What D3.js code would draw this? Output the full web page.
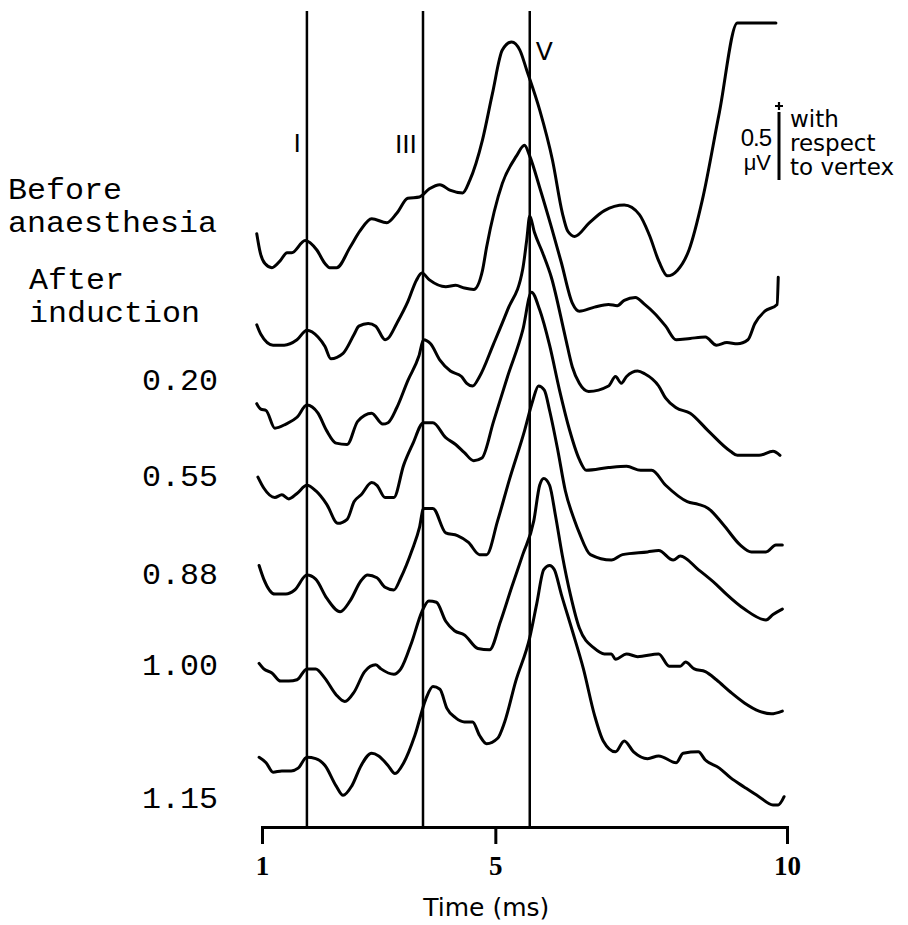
<!DOCTYPE html>
<html>
<head>
<meta charset="utf-8">
<script src="https://cdn.jsdelivr.net/npm/d3@7"></script>
<style>
  html, body { margin: 0; padding: 0; background: #fff; }
  svg { display: block; }
</style>
</head>
<body>
<svg id="chart" width="908" height="925"></svg>
<script>
// Brainstem auditory evoked responses recorded before and during anaesthesia.
// Each series: [time (ms), amplitude (µV) relative to that trace's own baseline].
const before = [
  [0.91,-0.01],[0.97,-0.15],[1.05,-0.23],[1.17,-0.26],[1.31,-0.21],[1.43,-0.15],[1.51,-0.15],
  [1.74,-0.06],[1.94,-0.13],[2.08,-0.23],[2.16,-0.26],[2.28,-0.26],[2.51,-0.11],[2.68,0.01],
  [2.88,0.10],[3.14,0.07],[3.31,0.14],[3.50,0.25],[3.70,0.26],[3.87,0.32],[4.05,0.35],[4.22,0.31],
  [4.44,0.29],[4.56,0.38],[4.78,0.68],[4.95,1.02],[5.12,1.34],[5.28,1.40],[5.42,1.34],[5.54,1.19],
  [5.76,0.90],[5.98,0.53],[6.15,0.14],[6.24,0.01],[6.36,-0.03],[6.61,0.07],[6.87,0.16],[7.21,0.20],
  [7.47,0.13],[7.64,-0.02],[7.81,-0.22],[7.95,-0.32],[8.12,-0.28],[8.32,-0.13],[8.55,0.24],
  [8.84,0.88],[9.15,1.54],[9.81,1.54]
];
const afterInduction = [
  [0.91,0.00],[0.98,-0.07],[1.19,-0.15],[1.38,-0.15],[1.60,-0.11],[1.77,-0.04],[1.96,-0.09],
  [2.08,-0.16],[2.18,-0.25],[2.39,-0.21],[2.58,-0.07],[2.66,-0.01],[2.82,0.01],[2.95,-0.01],
  [3.11,-0.11],[3.16,-0.10],[3.31,0.01],[3.50,0.17],[3.65,0.33],[3.74,0.38],[3.87,0.33],[4.15,0.28],
  [4.32,0.29],[4.47,0.27],[4.63,0.26],[4.78,0.40],[4.85,0.57],[5.12,1.04],[5.36,1.24],[5.50,1.32],
  [5.59,1.24],[5.76,1.01],[5.96,0.72],[6.13,0.46],[6.32,0.16],[6.44,0.10],[6.70,0.13],[6.94,0.15],
  [7.09,0.14],[7.21,0.18],[7.40,0.20],[7.56,0.15],[7.74,0.08],[7.92,-0.01],[8.10,-0.11],[8.34,-0.10],
  [8.60,-0.09],[8.79,-0.15],[8.97,-0.13],[9.15,-0.14],[9.33,-0.11],[9.45,0.01],[9.62,0.10],
  [9.83,0.15],[9.85,0.35]
];
const dose020 = [
  [0.91,0.00],[0.98,-0.04],[1.07,-0.05],[1.22,-0.18],[1.41,-0.15],[1.60,-0.10],[1.77,-0.01],
  [1.96,-0.07],[2.11,-0.20],[2.27,-0.29],[2.46,-0.30],[2.64,-0.13],[2.88,-0.07],[3.07,-0.15],
  [3.16,-0.14],[3.31,-0.03],[3.50,0.17],[3.69,0.35],[3.77,0.47],[3.89,0.44],[4.05,0.32],[4.23,0.24],
  [4.42,0.20],[4.51,0.15],[4.61,0.13],[4.73,0.20],[4.97,0.44],[5.21,0.69],[5.47,0.99],[5.54,1.21],
  [5.59,1.38],[5.67,1.26],[5.81,1.11],[5.96,0.93],[6.20,0.49],[6.32,0.27],[6.44,0.15],[6.60,0.09],
  [6.94,0.13],[7.06,0.20],[7.16,0.15],[7.25,0.20],[7.44,0.24],[7.56,0.22],[7.80,0.13],[7.92,0.04],
  [8.10,-0.03],[8.34,-0.07],[8.65,-0.20],[9.03,-0.35],[9.15,-0.38],[9.52,-0.38],[9.76,-0.35],
  [9.88,-0.38]
];
const dose055 = [
  [0.93,0.02],[1.03,-0.06],[1.22,-0.13],[1.34,-0.11],[1.46,-0.14],[1.60,-0.10],[1.77,-0.04],
  [1.92,-0.08],[2.11,-0.18],[2.30,-0.32],[2.46,-0.29],[2.58,-0.16],[2.70,-0.11],[2.88,-0.02],
  [2.97,-0.04],[3.11,-0.13],[3.26,-0.13],[3.43,0.11],[3.58,0.26],[3.77,0.42],[3.93,0.42],[4.15,0.31],
  [4.32,0.26],[4.47,0.20],[4.63,0.14],[4.77,0.16],[4.97,0.43],[5.21,0.76],[5.47,1.10],[5.62,1.38],
  [5.76,1.25],[5.93,0.99],[6.10,0.66],[6.27,0.37],[6.44,0.15],[6.56,0.07],[6.94,0.09],[7.25,0.10],
  [7.49,0.07],[7.68,0.07],[7.92,-0.04],[8.29,-0.16],[8.48,-0.18],[8.65,-0.21],[8.91,-0.33],
  [9.20,-0.48],[9.39,-0.53],[9.64,-0.53],[9.81,-0.48],[9.92,-0.48]
];
const dose088 = [
  [0.95,0.00],[1.03,-0.10],[1.22,-0.21],[1.41,-0.21],[1.56,-0.18],[1.77,-0.07],[1.92,-0.10],
  [2.11,-0.24],[2.34,-0.34],[2.51,-0.26],[2.70,-0.11],[2.81,-0.07],[2.97,-0.09],[3.11,-0.16],
  [3.26,-0.18],[3.38,-0.09],[3.57,0.11],[3.70,0.28],[3.77,0.42],[3.93,0.42],[4.15,0.24],[4.35,0.22],
  [4.54,0.17],[4.73,0.08],[4.85,0.08],[5.04,0.33],[5.24,0.63],[5.50,0.99],[5.64,1.21],[5.74,1.32],
  [5.84,1.29],[5.93,1.14],[6.07,0.85],[6.20,0.55],[6.36,0.33],[6.44,0.24],[6.63,0.08],[6.99,0.04],
  [7.18,0.08],[7.61,0.10],[7.80,0.11],[8.05,0.04],[8.17,0.07],[8.48,-0.03],[8.79,-0.14],
  [8.96,-0.21],[9.27,-0.32],[9.64,-0.40],[9.76,-0.36],[9.92,-0.32]
];
const dose100 = [
  [0.95,0.00],[1.03,-0.04],[1.17,-0.07],[1.32,-0.13],[1.46,-0.13],[1.60,-0.12],[1.77,-0.04],
  [1.92,-0.04],[2.08,-0.11],[2.27,-0.23],[2.42,-0.28],[2.58,-0.21],[2.76,-0.06],[2.95,-0.01],
  [3.04,-0.04],[3.26,-0.08],[3.38,-0.04],[3.57,0.16],[3.74,0.38],[3.86,0.46],[3.99,0.45],[4.15,0.31],
  [4.30,0.24],[4.47,0.21],[4.70,0.11],[4.90,0.10],[5.09,0.31],[5.28,0.56],[5.47,0.80],[5.66,1.05],
  [5.76,1.31],[5.83,1.36],[5.93,1.31],[6.03,1.09],[6.15,0.79],[6.29,0.50],[6.44,0.26],[6.70,0.11],
  [6.87,0.07],[6.99,0.07],[7.06,0.03],[7.25,0.07],[7.44,0.05],[7.80,0.07],[7.98,-0.02],[8.17,-0.02],
  [8.26,0.01],[8.41,-0.04],[8.60,-0.06],[8.79,-0.12],[9.03,-0.21],[9.27,-0.29],[9.52,-0.35],
  [9.73,-0.37],[9.92,-0.35]
];
const dose115 = [
  [0.95,0.00],[1.07,-0.04],[1.19,-0.11],[1.34,-0.10],[1.50,-0.10],[1.62,-0.08],[1.77,0.00],
  [1.92,-0.01],[2.08,-0.06],[2.27,-0.21],[2.39,-0.28],[2.54,-0.21],[2.70,-0.06],[2.88,0.03],
  [3.00,0.01],[3.16,-0.06],[3.28,-0.12],[3.43,-0.04],[3.62,0.16],[3.81,0.43],[3.93,0.52],[4.05,0.50],
  [4.17,0.36],[4.32,0.29],[4.47,0.26],[4.61,0.26],[4.73,0.16],[4.85,0.10],[5.04,0.14],[5.16,0.26],
  [5.35,0.56],[5.59,0.88],[5.71,1.13],[5.83,1.38],[5.93,1.41],[6.01,1.38],[6.13,1.20],[6.32,0.93],
  [6.51,0.65],[6.70,0.31],[6.85,0.12],[7.06,0.04],[7.21,0.12],[7.37,0.04],[7.61,-0.01],[7.80,0.01],
  [8.10,-0.04],[8.22,0.03],[8.48,0.04],[8.60,-0.02],[8.84,-0.08],[9.03,-0.15],[9.27,-0.22],
  [9.52,-0.29],[9.76,-0.35],[9.85,-0.35],[9.95,-0.29]
];

const traceSeries = [before, afterInduction, dose020, dose055, dose088, dose100, dose115];
const conditionLabels = [
  ["Before", "anaesthesia"], ["After", "induction"],
  ["0.20"], ["0.55"], ["0.88"], ["1.00"], ["1.15"]
];
const waveNames = ["I", "III", "V"];
const waveLatencies = [1.77, 3.76, 5.59];   // ms
const timeTicks = [1, 5, 10];
const calibrationUV = 0.5;
const calibrationText = ["with", "respect", "to vertex"];

// ---- layout ----
const W = 908, H = 925;
const axisY = 827, markerTop = 11;
const stackOffsets = [4.38, 3.70, 3.12, 2.56, 1.93, 1.21, 0.52]; // µV, vertical stacking
const labelLayout = [
  { x: 8,   anchor: "start", y: [199, 232] },
  { x: 29,  anchor: "start", y: [289, 322] },
  { x: 218, anchor: "end",   y: [390] },
  { x: 218, anchor: "end",   y: [486] },
  { x: 218, anchor: "end",   y: [584] },
  { x: 218, anchor: "end",   y: [675] },
  { x: 218, anchor: "end",   y: [808] }
];
const labelCharWidth = 19;   // typewriter pitch of the condition labels
const sans = "'DejaVu Sans', 'Liberation Sans', sans-serif";
const mono = "'Liberation Mono', 'Courier New', monospace";

const svg = d3.select("#chart");
svg.append("rect").attr("width", W).attr("height", H).attr("fill", "#fff");

const x = d3.scaleLinear().domain([1, 10]).range([262, 787]);
const y = d3.scaleLinear().domain([0, 6]).range([828, 12]);

// wave marker lines
const gMarkers = svg.append("g");
gMarkers.selectAll("line").data(waveLatencies).join("line")
  .attr("x1", d => x(d)).attr("x2", d => x(d))
  .attr("y1", markerTop).attr("y2", axisY)
  .attr("stroke", "#000").attr("stroke-width", 2.5);

const waveLabelPos = [
  { dx: -6, anchor: "end",   y: 152 },
  { dx: -6, anchor: "end",   y: 153 },
  { dx: 6,  anchor: "start", y: 60 }
];
gMarkers.selectAll("text").data(waveNames).join("text")
  .attr("x", (d, i) => x(waveLatencies[i]) + waveLabelPos[i].dx)
  .attr("y", (d, i) => waveLabelPos[i].y)
  .attr("text-anchor", (d, i) => waveLabelPos[i].anchor)
  .style("font", `25px ${sans}`)
  .attr("fill", "#000")
  .text(d => d);

// traces
const gTraces = svg.append("g");
gTraces.selectAll("path").data(traceSeries).join("path")
  .attr("d", (series, i) => d3.line()
      .x(p => x(p[0]))
      .y(p => y(p[1] + stackOffsets[i]))
      .curve(d3.curveMonotoneX)(series))
  .attr("fill", "none")
  .attr("stroke", "#000")
  .attr("stroke-width", 3)
  .attr("stroke-linejoin", "round")
  .attr("stroke-linecap", "round");

// condition labels
const gLabels = svg.append("g");
conditionLabels.forEach((lines, i) => {
  const L = labelLayout[i];
  lines.forEach((txt, j) => {
    gLabels.append("text")
      .attr("x", L.x).attr("y", L.y[j])
      .attr("text-anchor", L.anchor)
      .attr("textLength", txt.length * labelCharWidth)
      .attr("lengthAdjust", "spacingAndGlyphs")
      .style("font", `29px ${mono}`)
      .attr("fill", "#000")
      .text(txt);
  });
});

// time axis
const axis = d3.axisBottom(x)
  .tickValues(timeTicks)
  .tickFormat(d3.format("d"))
  .tickSize(17)
  .tickSizeOuter(17);
const gAxis = svg.append("g").attr("transform", `translate(0,${axisY})`).call(axis);
gAxis.select(".domain").attr("stroke", "#000").attr("stroke-width", 3).attr("fill", "none");
gAxis.selectAll(".tick line").attr("stroke", "#000").attr("stroke-width", 3);
gAxis.selectAll(".tick text")
  .attr("y", 48).attr("dy", null)
  .attr("fill", "#000")
  .style("font", `bold 27px 'Liberation Serif', serif`);

svg.append("text")
  .attr("x", x(5) - 9).attr("y", 916)
  .attr("text-anchor", "middle")
  .style("font", `25px ${sans}`)
  .attr("fill", "#000")
  .text("Time (ms)");

// calibration bar: 0.5 µV drawn on the same amplitude scale as the traces
const barX = 779, barBottom = 180;
const barPx = y(0) - y(calibrationUV);
const barTop = barBottom - barPx;
const gCal = svg.append("g");
gCal.append("line")
  .attr("x1", barX).attr("x2", barX)
  .attr("y1", barBottom).attr("y2", barTop)
  .attr("stroke", "#000").attr("stroke-width", 3);
// "+" marker above the bar
gCal.append("path")
  .attr("d", `M${barX - 4},${barTop - 6}H${barX + 4}M${barX},${barTop - 10}V${barTop - 2}`)
  .attr("stroke", "#000").attr("stroke-width", 2.2).attr("fill", "none");
gCal.append("text")
  .attr("x", 771).attr("y", 146)
  .attr("text-anchor", "end")
  .attr("letter-spacing", -1)
  .style("font", `24px 'Liberation Sans', sans-serif`)
  .text(calibrationUV.toString());
gCal.append("text")
  .attr("x", 771).attr("y", 170)
  .attr("text-anchor", "end")
  .style("font", `22px 'Liberation Sans', sans-serif`)
  .text("\u03BCV");
gCal.selectAll("text.note").data(calibrationText).join("text")
  .attr("class", "note")
  .attr("x", 790)
  .attr("y", (d, i) => 127 + i * 24)
  .style("font", `23px ${sans}`)
  .text(d => d);
</script>
</body>
</html>
